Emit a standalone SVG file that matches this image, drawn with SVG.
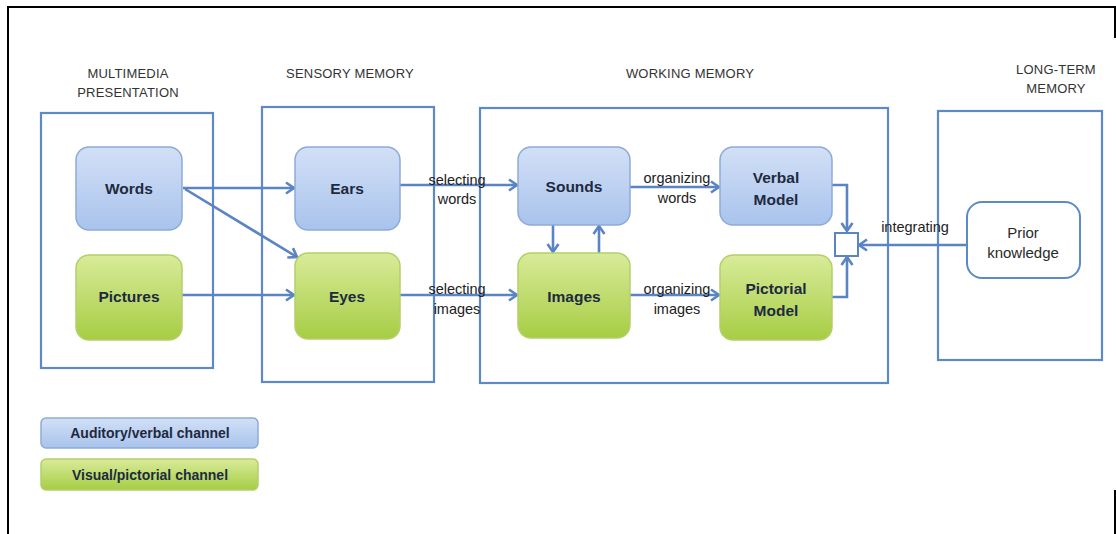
<svg xmlns="http://www.w3.org/2000/svg" width="1116" height="534" viewBox="0 0 1116 534">
<style>
.frame{stroke:#000;stroke-width:2;fill:none}
.container{fill:none;stroke:#5d8ac6;stroke-width:2.2}
.blue{fill:url(#gBlue);stroke:#8eaad8;stroke-width:1.5}
.green{fill:url(#gGreen);stroke:#b4d068;stroke-width:1.5}
.white{fill:#fff;stroke:#5d8ac6;stroke-width:2}
.hdr{font-family:"Liberation Sans",Arial,sans-serif;font-size:13px;fill:#333;text-anchor:middle;letter-spacing:0.2px}
.lbl{font-family:"Liberation Sans",Arial,sans-serif;font-size:15.5px;font-weight:bold;fill:#1e2a40;text-anchor:middle}
.edge{font-family:"Liberation Sans",Arial,sans-serif;font-size:14.5px;fill:#222;text-anchor:middle}
.pk{font-family:"Liberation Sans",Arial,sans-serif;font-size:15px;fill:#2a2a2a;text-anchor:middle}
.leg{font-family:"Liberation Sans",Arial,sans-serif;font-size:14px;font-weight:bold;fill:#1e2a40;text-anchor:middle}
.conn{fill:none;stroke:#5a84c4;stroke-width:2.6;marker-end:url(#arr)}
</style>
<defs>
<linearGradient id="gBlue" x1="0" y1="0" x2="0" y2="1">
<stop offset="0" stop-color="#d2e0f6"/>
<stop offset="1" stop-color="#a9c3ec"/>
</linearGradient>
<linearGradient id="gGreen" x1="0" y1="0" x2="0" y2="1">
<stop offset="0" stop-color="#d9eb9a"/>
<stop offset="1" stop-color="#a6cd44"/>
</linearGradient>
<marker id="arr" markerUnits="userSpaceOnUse" markerWidth="14" markerHeight="14" refX="11" refY="7" orient="auto">
<path d="M3,1.5 L11,7 L3,12.5" fill="none" stroke="#5a84c4" stroke-width="2.6"/>
</marker>
</defs>
<rect width="1116" height="534" fill="#fff"/>
<g id="frame">
<path class="frame" d="M8,534 L8,7 L1116,7"/>
<path class="frame" d="M1115,7 L1115,38"/>
<path class="frame" d="M1115,490 L1115,534"/>
</g>
<g id="headers">
<text class="hdr" x="128" y="78">MULTIMEDIA</text>
<text class="hdr" x="128" y="97">PRESENTATION</text>
<text class="hdr" x="350" y="78">SENSORY MEMORY</text>
<text class="hdr" x="690" y="78">WORKING MEMORY</text>
<text class="hdr" x="1056" y="74">LONG-TERM</text>
<text class="hdr" x="1056" y="93">MEMORY</text>
</g>
<g id="containers">
<rect class="container" x="41" y="113" width="172" height="255"/>
<rect class="container" x="262" y="107" width="172" height="275"/>
<rect class="container" x="480" y="108" width="408" height="275"/>
<rect class="container" x="938" y="111" width="164" height="249"/>
</g>
<g id="connectors">
<line class="conn" x1="183" y1="188" x2="294" y2="188"/>
<line class="conn" x1="185" y1="189" x2="297" y2="257"/>
<line class="conn" x1="182" y1="295" x2="294" y2="295"/>
<line class="conn" x1="400" y1="185" x2="517" y2="185"/>
<line class="conn" x1="400" y1="295" x2="517" y2="295"/>
<line class="conn" x1="630" y1="187" x2="719" y2="187"/>
<line class="conn" x1="630" y1="295" x2="719" y2="295"/>
<line class="conn" x1="553" y1="225" x2="553" y2="252"/>
<line class="conn" x1="599" y1="253" x2="599" y2="226"/>
<polyline class="conn" points="832,185 847,185 847,231"/>
<polyline class="conn" points="832,297 847,297 847,257"/>
<line class="conn" x1="967" y1="245" x2="859" y2="245"/>
<text class="edge" x="457" y="185">selecting</text>
<text class="edge" x="457" y="204">words</text>
<text class="edge" x="457" y="294">selecting</text>
<text class="edge" x="457" y="314">images</text>
<text class="edge" x="677" y="183">organizing</text>
<text class="edge" x="677" y="203">words</text>
<text class="edge" x="677" y="294">organizing</text>
<text class="edge" x="677" y="314">images</text>
<text class="edge" x="915" y="232">integrating</text>
</g>
<g id="words"><rect class="blue" x="76" y="147" width="106" height="83" rx="13"/><text class="lbl" x="129" y="194">Words</text></g>
<g id="pictures"><rect class="green" x="76" y="255" width="106" height="85" rx="13"/><text class="lbl" x="129" y="302">Pictures</text></g>
<g id="ears"><rect class="blue" x="295" y="147" width="105" height="83" rx="13"/><text class="lbl" x="347" y="194">Ears</text></g>
<g id="eyes"><rect class="green" x="295" y="253" width="105" height="86" rx="13"/><text class="lbl" x="347" y="302">Eyes</text></g>
<g id="sounds"><rect class="blue" x="518" y="147" width="112" height="78" rx="13"/><text class="lbl" x="574" y="192">Sounds</text></g>
<g id="images"><rect class="green" x="518" y="253" width="112" height="85" rx="13"/><text class="lbl" x="574" y="302">Images</text></g>
<g id="verbal"><rect class="blue" x="720" y="147" width="112" height="78" rx="13"/><text class="lbl" x="776" y="183">Verbal</text><text class="lbl" x="776" y="205">Model</text></g>
<g id="pictorial"><rect class="green" x="720" y="255" width="112" height="85" rx="13"/><text class="lbl" x="776" y="294">Pictorial</text><text class="lbl" x="776" y="316">Model</text></g>
<g id="junction"><rect x="835" y="233" width="23" height="23" fill="#fff" stroke="#5a84c4" stroke-width="2"/></g>
<g id="prior"><rect class="white" x="967" y="202" width="113" height="76" rx="15"/><text class="pk" x="1023" y="238">Prior</text><text class="pk" x="1023" y="258">knowledge</text></g>
<g id="legend-auditory"><rect class="blue" x="41" y="418" width="217" height="30" rx="5"/><text class="leg" x="150" y="438">Auditory/verbal channel</text></g>
<g id="legend-visual"><rect class="green" x="41" y="459" width="217" height="31" rx="5"/><text class="leg" x="150" y="480">Visual/pictorial channel</text></g>
</svg>
